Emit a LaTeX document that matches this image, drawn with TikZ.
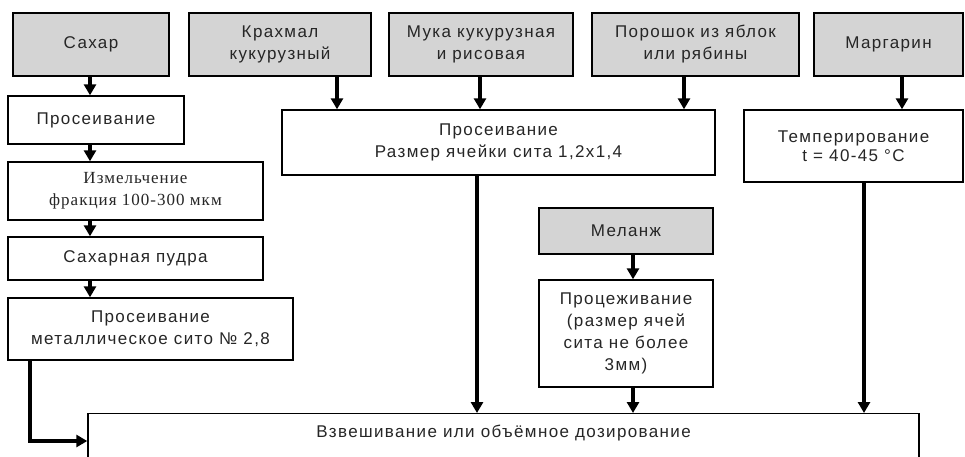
\documentclass[tikz,border=0pt]{standalone}
\usepackage{fontspec}
\setmainfont{Liberation Sans}[LetterSpace=8]
\newfontfamily\serifcyr{Liberation Serif}[LetterSpace=6]
\usetikzlibrary{arrows.meta}
\begin{document}
\begin{tikzpicture}[x=1pt,y=-1pt,
  box/.style={draw=black, line width=1.4pt, fill=white, inner sep=0pt, align=center,
    font=\fontsize{17}{22}\selectfont, text=black!85},
  src/.style={box, fill=black!17},
  arr/.style={line width=3.2pt, -{Triangle[length=11pt,width=12pt]}},
]
\clip (0,0) rectangle (965,456);
\fill[white] (0,0) rectangle (965,456);
% source boxes
\node[src, minimum width=156pt, minimum height=63pt] (sah) at (91,44.5) {Сахар};
\node[src, minimum width=182pt, minimum height=63pt] (krah) at (280,44.5) {Крахмал\\кукурузный};
\node[src, minimum width=184pt, minimum height=63pt] (muka) at (481,44.5) {Мука кукурузная\\и рисовая};
\node[src, minimum width=207pt, minimum height=63pt] (por) at (695.5,44.5) {Порошок из яблок\\или рябины};
\node[src, minimum width=149pt, minimum height=63pt] (marg) at (888.5,44.5) {Маргарин};
\node[src, minimum width=174pt, minimum height=46pt] (mel) at (626,231) {Меланж};
% process boxes
\node[box, minimum width=176pt, minimum height=48pt] (pros1) at (96,120) {Просеивание};
\node[box, minimum width=255pt, minimum height=58pt, font=\serifcyr\fontsize{17}{22}\selectfont] (izm) at (135.5,191) {Измельчение\\фракция 100-300 мкм};
\node[box, minimum width=255pt, minimum height=43pt] (pudra) at (135.5,258.5) {Сахарная пудра};
\node[box, minimum width=285pt, minimum height=62pt] (pros2) at (150.5,329) {Просеивание\\металлическое сито № 2,8};
\node[box, minimum width=433pt, minimum height=65pt] (prosm) at (498.5,142.5) {Просеивание\\Размер ячейки сита 1,2x1,4};
\node[box, minimum width=219pt, minimum height=72pt, font=\fontsize{17}{19}\selectfont] (temp) at (853.5,146) {Темперирование\\t = 40-45 °C};
\node[box, minimum width=174pt, minimum height=107pt] (proc) at (626,333.5) {Процеживание\\(размер ячей\\сита не более\\3мм)};
\node[box, anchor=north, minimum width=831pt, text height=24pt, text depth=60pt] (bot) at (503.5,413) {Взвешивание или объёмное дозирование};
% x positions of connectors
\coordinate (xa) at (90,0);
\coordinate (xl) at (30,441);
\coordinate (xk) at (337,0);
\coordinate (xm) at (480,0);
\coordinate (xp) at (684,0);
\coordinate (xg) at (902,0);
\coordinate (xs) at (477,0);
\coordinate (xc) at (633,0);
\coordinate (xt) at (864,0);
% connectors
\draw[arr] (sah.south -| xa) -- (pros1.north -| xa);
\draw[arr] (pros1.south -| xa) -- (izm.north -| xa);
\draw[arr] (izm.south -| xa) -- (pudra.north -| xa);
\draw[arr] (pudra.south -| xa) -- (pros2.north -| xa);
\draw[arr] (pros2.south -| xl) |- (bot.west |- xl);
\draw[arr] (krah.south -| xk) -- (prosm.north -| xk);
\draw[arr] (muka.south -| xm) -- (prosm.north -| xm);
\draw[arr] (por.south -| xp) -- (prosm.north -| xp);
\draw[arr] (marg.south -| xg) -- (temp.north -| xg);
\draw[arr] (prosm.south -| xs) -- (bot.north -| xs);
\draw[arr] (mel.south -| xc) -- (proc.north -| xc);
\draw[arr] (proc.south -| xc) -- (bot.north -| xc);
\draw[arr] (temp.south -| xt) -- (bot.north -| xt);
\end{tikzpicture}
\end{document}
